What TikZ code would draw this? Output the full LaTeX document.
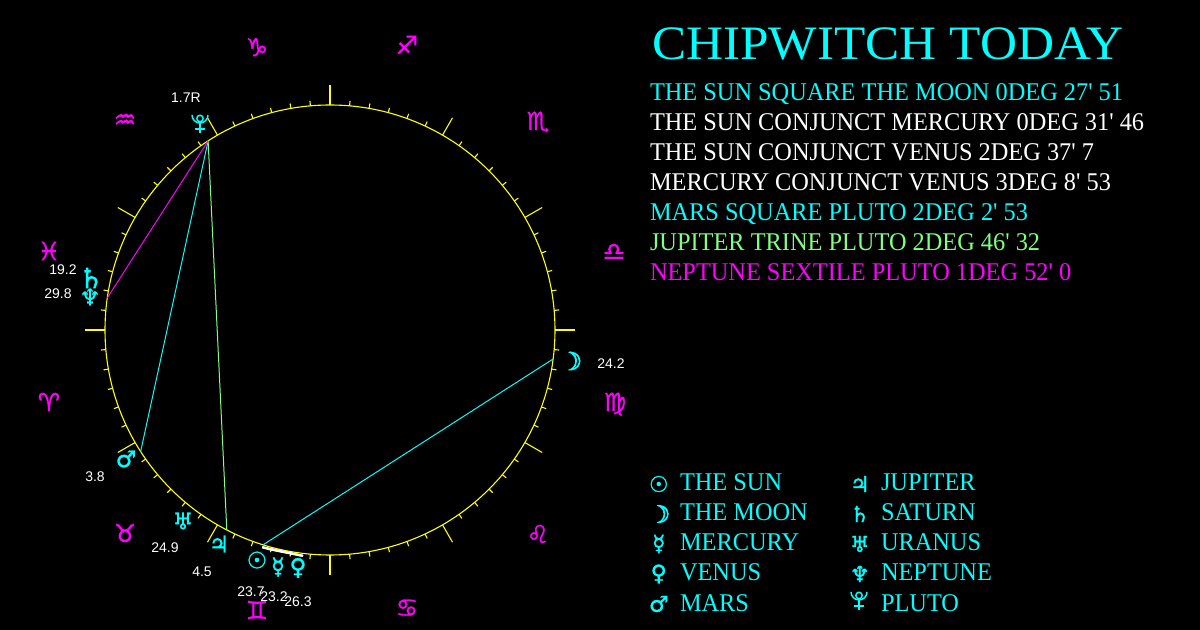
\documentclass[tikz,border=0pt]{standalone}
\usepackage{fontspec}
\usetikzlibrary{positioning}
\newfontfamily\capsfont[FakeStretch=0.955]{Liberation Serif}
\newfontfamily\titlefont[FakeStretch=1.068]{Liberation Serif}
\newfontfamily\glyphfont[FakeBold=1.2]{DejaVu Sans}
\newfontfamily\moonfont[FakeBold=3]{DejaVu Sans}
\newfontfamily\numfont{Liberation Sans}
\definecolor{chartyellow}{HTML}{FFFF00}
\definecolor{chartcyan}{HTML}{00FFFF}
\definecolor{chartmagenta}{HTML}{FF00FF}
\definecolor{chartgreen}{HTML}{80FF80}
\tikzset{
    plutoglyph/.pic={
        \draw[chartcyan,line width=1.5bp] (0,5.5) circle (3.2);
        \draw[chartcyan,line width=1.5bp] (-8,9) arc (180:360:8);
        \draw[chartcyan,line width=1.5bp] (0,1) -- (0,-9);
        \draw[chartcyan,line width=1.5bp] (-5,-5) -- (5,-5);
    }
}

\begin{document}
\begin{tikzpicture}[x=1bp,y=1bp]
    \tikzstyle{chart} = [draw=chartyellow,line width=1.1bp]
    \tikzstyle{aspect} = [line width=1bp]
    \tikzstyle{conjunct} = [line width=2.2bp,white]
    \tikzstyle{sign} = [text=chartmagenta,inner sep=0pt,font=\glyphfont\fontsize{25bp}{25bp}\selectfont]
    \tikzstyle{planet} = [text=chartcyan,inner sep=0pt,font=\glyphfont\fontsize{23bp}{23bp}\selectfont]
    \tikzstyle{degree} = [text=white,inner sep=0pt,font=\numfont\fontsize{14bp}{14bp}\selectfont]
    \tikzstyle{textline} = [anchor=west,inner sep=0pt,outer sep=0pt,text height=18bp,text depth=4bp,font=\capsfont\fontsize{25.5bp}{26bp}\selectfont]
    \tikzstyle{keyglyph} = [planet,text width=20bp,align=center,font=\glyphfont\fontsize{22bp}{22bp}\selectfont]
    \useasboundingbox[fill=black] (-330,-300) rectangle (870,330);

    % wheel
    \draw[chart] (0,0) circle (225);
    \foreach \m in {0,30,...,330} {
        \draw[chart] (\m:225) -- (\m:245);
        \foreach \t in {5,10,...,25}
            \draw[chart] (\m+\t:225) -- (\m+\t:230);
    }
    \foreach \x/\y/\g/\n in {-281/-72/♈/aries,-205/-203/♉/taurus,-73/-280/♊/gemini,77/-278/♋/cancer,208/-204/♌/leo,285/-74/♍/virgo,284/78/♎/libra,208/208/♏/scorpio,77/285/♐/sagittarius,-73/283/♑/capricorn,-205/209/♒/aquarius,-281/79/♓/pisces}
        \node[sign] (\n) at (\x,\y) {\g};

    % points on the wheel
    \coordinate (sunpt) at (252.7:225);
    \coordinate (moonpt) at (352.6:225);
    \coordinate (marspt) at (212.7:225);
    \coordinate (jupiterpt) at (242.7:225);
    \coordinate (neptunept) at (171.8:225);
    \coordinate (plutopt) at (122.8:225);
    \coordinate (sunmark) at (252.7:227.5);
    \coordinate (mercurymark) at (254.5:227.5);
    \coordinate (venusmark) at (263.2:227.5);

    % aspects
    \draw[aspect,chartcyan] (sunpt) -- (moonpt);
    \draw[aspect,chartcyan] (marspt) -- (plutopt);
    \draw[aspect,chartgreen] (jupiterpt) -- (plutopt);
    \draw[aspect,chartmagenta] (neptunept) -- (plutopt);
    \draw[conjunct] (sunmark) -- (mercurymark);
    \draw[conjunct] (sunmark) -- (venusmark);
    \draw[conjunct] (mercurymark) -- (venusmark);

    % planets
    \node[planet] (sun) at (-73,-230) {☉};
    \node[planet,font=\moonfont\fontsize{25bp}{25bp}\selectfont] (moon) at (241,-31) {☽};
    \node[planet] (mercury) at (-52,-237) {☿};
    \node[planet] (venus) at (-32,-238) {♀};
    \node[planet] (mars) at (-204,-129) {♂};
    \node[planet] (jupiter) at (-111,-214) {♃};
    \node[planet,font=\glyphfont\fontsize{28bp}{28bp}\selectfont] (saturn) at (-239,52) {♄};
    \node[planet] (uranus) at (-147,-191) {♅};
    \node[planet] (neptune) at (-240,33) {♆};
    \pic (pluto) at (-130,206) {plutoglyph};
    \node[degree] (sundeg) at (-79,-262) {23.7};
    \node[degree] (moondeg) at (281,-34) {24.2};
    \node[degree] (mercurydeg) at (-56,-267) {23.2};
    \node[degree] (venusdeg) at (-32,-272) {26.3};
    \node[degree] (marsdeg) at (-235,-147) {3.8};
    \node[degree] (jupiterdeg) at (-128,-242) {4.5};
    \node[degree] (saturndeg) at (-267,60) {19.2};
    \node[degree] (uranusdeg) at (-165,-218) {24.9};
    \node[degree] (neptunedeg) at (-272,36) {29.8};
    \node[degree] (plutodeg) at (-144,232) {1.7R};

    % aspect list
    \node[anchor=base west,inner sep=0pt,text=chartcyan,font=\titlefont\fontsize{48bp}{48bp}\selectfont] (title) at (322,270) {CHIPWITCH TODAY};
    \node[textline,text=chartcyan] (line1) at (320,236) {THE SUN SQUARE THE MOON 0DEG 27' 51};
    \node[textline,text=white] (line2) [below=8bp of line1.south west,anchor=north west] {THE SUN CONJUNCT MERCURY 0DEG 31' 46};
    \node[textline,text=white] (line3) [below=8bp of line2.south west,anchor=north west] {THE SUN CONJUNCT VENUS 2DEG 37' 7};
    \node[textline,text=white] (line4) [below=8bp of line3.south west,anchor=north west] {MERCURY CONJUNCT VENUS 3DEG 8' 53};
    \node[textline,text=chartcyan] (line5) [below=8bp of line4.south west,anchor=north west] {MARS SQUARE PLUTO 2DEG 2' 53};
    \node[textline,text=chartgreen] (line6) [below=8bp of line5.south west,anchor=north west] {JUPITER TRINE PLUTO 2DEG 46' 32};
    \node[textline,text=chartmagenta] (line7) [below=8bp of line6.south west,anchor=north west] {NEPTUNE SEXTILE PLUTO 1DEG 52' 0};

    % key
    \node[textline,text=chartcyan] (keysun) at (350,-154) {THE SUN};
    \node[textline,text=chartcyan] (keymoon) [below=8bp of keysun.south west,anchor=north west] {THE MOON};
    \node[textline,text=chartcyan] (keymercury) [below=8bp of keymoon.south west,anchor=north west] {MERCURY};
    \node[textline,text=chartcyan] (keyvenus) [below=8bp of keymercury.south west,anchor=north west] {VENUS};
    \node[textline,text=chartcyan] (keymars) [below=8bp of keyvenus.south west,anchor=north west] {MARS};
    \node[textline,text=chartcyan] (keyjupiter) at (551,-154) {JUPITER};
    \node[textline,text=chartcyan] (keysaturn) [below=8bp of keyjupiter.south west,anchor=north west] {SATURN};
    \node[textline,text=chartcyan] (keyuranus) [below=8bp of keysaturn.south west,anchor=north west] {URANUS};
    \node[textline,text=chartcyan] (keyneptune) [below=8bp of keyuranus.south west,anchor=north west] {NEPTUNE};
    \node[textline,text=chartcyan] (keypluto) [below=8bp of keyneptune.south west,anchor=north west] {PLUTO};
    \foreach \n/\g in {sun/☉,mercury/☿,venus/♀,mars/♂,jupiter/♃,saturn/♄,uranus/♅,neptune/♆}
        \node[keyglyph] (glyph\n) [left=11bp of key\n.west] {\g};
    \node[keyglyph,font=\moonfont\fontsize{24bp}{24bp}\selectfont] (glyphmoon) [left=11bp of keymoon.west] {☽};
    \pic (glyphpluto) at (529,-271) {plutoglyph};
\end{tikzpicture}
\end{document}
